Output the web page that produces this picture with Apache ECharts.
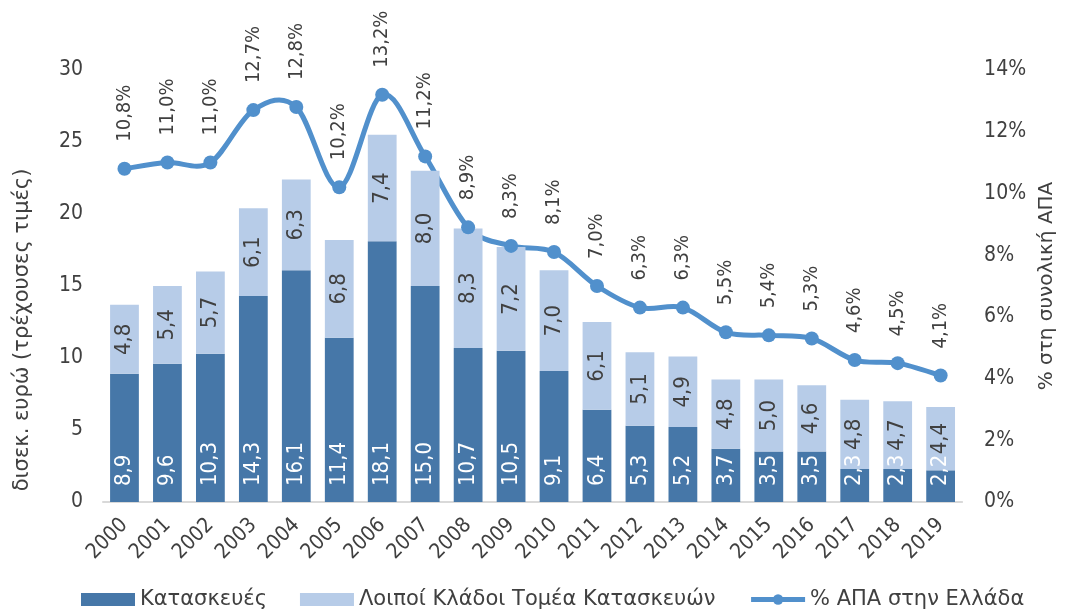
<!DOCTYPE html>
<html lang="el">
<head>
    <meta charset="UTF-8">
    <title>Κατασκευές</title>
    <script type="text/javascript" src="https://cdn.jsdelivr.net/npm/echarts@6/dist/echarts.min.js"></script>
    <style>
        html, body { margin: 0; padding: 0; background: #fff; }
        #chart { width: 1065px; height: 613px; }
    </style>
</head>
<body>
<div id="chart"></div>

<script type="text/javascript">
    var years = ['2000', '2001', '2002', '2003', '2004', '2005', '2006', '2007', '2008', '2009',
        '2010', '2011', '2012', '2013', '2014', '2015', '2016', '2017', '2018', '2019'];
    // δισεκ. ευρώ
    var construction = [8.9, 9.6, 10.3, 14.3, 16.1, 11.4, 18.1, 15.0, 10.7, 10.5,
        9.1, 6.4, 5.3, 5.2, 3.7, 3.5, 3.5, 2.3, 2.3, 2.2];
    var otherBranches = [4.8, 5.4, 5.7, 6.1, 6.3, 6.8, 7.4, 8.0, 8.3, 7.2,
        7.0, 6.1, 5.1, 4.9, 4.8, 5.0, 4.6, 4.8, 4.7, 4.4];
    // % ΑΠΑ
    var gvaShare = [10.8, 11.0, 11.0, 12.7, 12.8, 10.2, 13.2, 11.2, 8.9, 8.3,
        8.1, 7.0, 6.3, 6.3, 5.5, 5.4, 5.3, 4.6, 4.5, 4.1];

    var NUM_FONT = '"DejaVu Sans Condensed", "DejaVu Sans", sans-serif';
    var TXT_FONT = '"DejaVu Sans", sans-serif';
    var TXT = '#404040';
    var LINE_COLOR = '#5190CC';

    function comma(v) {
        return v.toFixed(1).replace('.', ',');
    }

    // excel-like smoothed curve (catmull-rom), points come from the axes
    function renderCurve(params, api) {
        if (params.dataIndex !== 0) return null;
        var pts = gvaShare.map(function (v, i) { return api.coord([i, v]); });
        var d = 'M' + pts[0][0] + ' ' + pts[0][1];
        for (var i = 0; i < pts.length - 1; i++) {
            var p0 = pts[Math.max(i - 1, 0)];
            var p1 = pts[i];
            var p2 = pts[i + 1];
            var p3 = pts[Math.min(i + 2, pts.length - 1)];
            var c1x = p1[0] + (p2[0] - p0[0]) / 6;
            var c1y = p1[1] + (p2[1] - p0[1]) / 6;
            var c2x = p2[0] - (p3[0] - p1[0]) / 6;
            var c2y = p2[1] - (p3[1] - p1[1]) / 6;
            d += ' C' + c1x + ' ' + c1y + ' ' + c2x + ' ' + c2y + ' ' + p2[0] + ' ' + p2[1];
        }
        return {
            type: 'path',
            shape: { pathData: d },
            style: { fill: 'none', stroke: LINE_COLOR, lineWidth: 5, lineJoin: 'round' }
        };
    }

    var chart = echarts.init(document.getElementById('chart'));

    chart.setOption({
        animation: false,
        textStyle: { fontFamily: NUM_FONT, color: TXT },
        grid: { left: 103, right: 95, top: 70, bottom: 111 },
        legend: {
            left: 76,
            top: 584,
            itemWidth: 54,
            itemHeight: 13,
            itemGap: 33,
            textStyle: { fontFamily: TXT_FONT, fontSize: 21, color: TXT },
            data: [
                { name: 'Κατασκευές', icon: 'rect' },
                { name: 'Λοιποί Κλάδοι Τομέα Κατασκευών', icon: 'rect' },
                {
                    name: '% ΑΠΑ στην Ελλάδα',
                    itemStyle: { color: LINE_COLOR },
                    lineStyle: { color: LINE_COLOR, width: 5, opacity: 1 }
                }
            ]
        },
        xAxis: {
            type: 'category',
            data: years,
            axisTick: { show: false },
            axisLine: { lineStyle: { color: '#D9D9D9', width: 2 } },
            axisLabel: {
                rotate: 45,
                margin: 20,
                fontSize: 21,
                color: TXT,
                fontFamily: NUM_FONT
            }
        },
        yAxis: [{
            type: 'value',
            min: 0,
            max: 30,
            interval: 5,
            name: 'δισεκ. ευρώ (τρέχουσες τιμές)',
            nameLocation: 'middle',
            nameGap: 70,
            nameTextStyle: { fontSize: 21, color: TXT, fontFamily: TXT_FONT, padding: [0, 88, 0, 0] },
            splitLine: { show: false },
            axisLine: { show: false },
            axisTick: { show: false },
            axisLabel: { fontSize: 21, color: TXT, margin: 20, fontFamily: NUM_FONT }
        }, {
            type: 'value',
            min: 0,
            max: 14,
            interval: 2,
            name: '% στη συνολική ΑΠΑ',
            nameLocation: 'middle',
            nameGap: 72,
            nameRotate: 90,
            nameTextStyle: { fontSize: 20, color: TXT, fontFamily: TXT_FONT },
            splitLine: { show: false },
            axisLine: { show: false },
            axisTick: { show: false },
            axisLabel: {
                fontSize: 21,
                color: TXT,
                margin: 22,
                fontFamily: NUM_FONT,
                formatter: '{value}%'
            }
        }],
        series: [{
            name: 'Κατασκευές',
            type: 'bar',
            stack: 'total',
            barCategoryGap: '33%',
            data: construction,
            itemStyle: { color: '#4677A8' },
            label: {
                show: true,
                position: 'insideBottom',
                rotate: 90,
                align: 'left',
                verticalAlign: 'middle',
                distance: 16,
                fontSize: 22,
                color: '#fff',
                fontFamily: NUM_FONT,
                formatter: function (p) { return comma(p.value); }
            }
        }, {
            name: 'Λοιποί Κλάδοι Τομέα Κατασκευών',
            type: 'bar',
            stack: 'total',
            data: otherBranches,
            itemStyle: { color: '#B7CCE8' },
            label: {
                show: true,
                position: 'inside',
                rotate: 90,
                fontSize: 22,
                color: TXT,
                fontFamily: NUM_FONT,
                formatter: function (p) { return comma(p.value); }
            }
        }, {
            name: 'gvaCurve',
            type: 'custom',
            yAxisIndex: 1,
            clip: false,
            silent: true,
            data: gvaShare.map(function (v, i) { return [i, v]; }),
            encode: { x: 0, y: 1 },
            renderItem: renderCurve
        }, {
            name: '% ΑΠΑ στην Ελλάδα',
            type: 'line',
            yAxisIndex: 1,
            data: gvaShare,
            symbol: 'circle',
            symbolSize: 14,
            lineStyle: { color: LINE_COLOR, width: 5, opacity: 0 },
            itemStyle: { color: LINE_COLOR },
            label: {
                show: true,
                position: 'top',
                rotate: 90,
                align: 'left',
                verticalAlign: 'middle',
                distance: 20,
                fontSize: 20,
                color: TXT,
                fontFamily: NUM_FONT,
                formatter: function (p) { return comma(p.value) + '%'; }
            }
        }]
    });
</script>
</body>
</html>
